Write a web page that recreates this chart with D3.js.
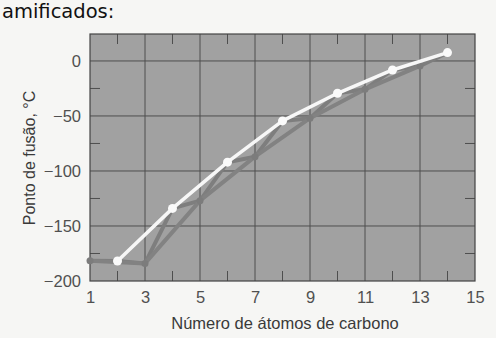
<!DOCTYPE html>
<html>
<head>
<meta charset="utf-8">
<script src="https://cdn.jsdelivr.net/npm/d3@7"></script>
<style>
  html, body { margin: 0; padding: 0; background: #f6f6f4; }
  svg { display: block; }
  .tick text { font-family: "Liberation Sans", Arial, sans-serif; font-size: 16.5px; fill: #505050; }
</style>
</head>
<body>
<div id="chart"></div>
<script>
"use strict"

// melting point (°C) vs number of carbon atoms
const carbons = [1, 2, 3, 4, 5, 6, 7, 8, 9, 10, 11, 12, 13, 14];
const meltingPoints = [-181.5, -181.8, -184, -134, -127, -92, -87, -54.5, -52, -29.4, -25.8, -8.2, -4.5, 7.6];
const xTicks = [1, 3, 5, 7, 9, 11, 13, 15];
const xMinor = [2, 4, 6, 8, 10, 12, 14];
const yTicks = [0, -50, -100, -150, -200];
const yMinor = [-25, -75, -125, -175];

const width = 496, height = 338;
const plot = {left: 90, right: 475, top: 34, bottom: 281};

const svg = d3.select("#chart").append("svg")
    .attr("width", width)
    .attr("height", height);

//---------------------------SCALES---------------------------//
const x = d3.scaleLinear().domain([1, 15]).range([plot.left, plot.right]);
const y = d3.scaleLinear().domain([-200, 24.5]).range([plot.bottom, plot.top]);

// cropped heading from the page
svg.append("text")
    .attr("x", 2)
    .attr("y", 18)
    .style("font-family", "DejaVu Sans, Verdana, sans-serif")
    .style("font-size", "19.5px")
    .style("fill", "#111")
    .text("amificados:");

// plot background
svg.append("rect")
    .attr("x", plot.left)
    .attr("y", plot.top)
    .attr("width", plot.right - plot.left)
    .attr("height", plot.bottom - plot.top)
    .attr("fill", "#a1a1a1");

//----------------------------GRID----------------------------//
const grid = svg.append("g").attr("stroke", "#4e4e4e").attr("stroke-width", 1);

grid.selectAll("line.vx")
    .data(xTicks.filter(d => d > 1 && d < 15))
    .join("line")
    .attr("x1", d => x(d)).attr("x2", d => x(d))
    .attr("y1", plot.top).attr("y2", plot.bottom);

grid.selectAll("line.hy")
    .data(yTicks.filter(d => d > -200))
    .join("line")
    .attr("class", "hy")
    .attr("x1", plot.left).attr("x2", plot.right)
    .attr("y1", d => y(d)).attr("y2", d => y(d));

// minor ticks inside the frame
const tickLen = 10;
xMinor.forEach(d => {
    grid.append("line").attr("x1", x(d)).attr("x2", x(d)).attr("y1", plot.top).attr("y2", plot.top + tickLen);
    grid.append("line").attr("x1", x(d)).attr("x2", x(d)).attr("y1", plot.bottom).attr("y2", plot.bottom - tickLen);
});
yMinor.forEach(d => {
    grid.append("line").attr("x1", plot.left).attr("x2", plot.left + tickLen).attr("y1", y(d)).attr("y2", y(d));
    grid.append("line").attr("x1", plot.right).attr("x2", plot.right - tickLen).attr("y1", y(d)).attr("y2", y(d));
});

svg.append("rect")
    .attr("x", plot.left)
    .attr("y", plot.top)
    .attr("width", plot.right - plot.left)
    .attr("height", plot.bottom - plot.top)
    .attr("fill", "none")
    .attr("stroke", "#444")
    .attr("stroke-width", 1.2);

//----------------------------AXES----------------------------//
const xAxis = svg.append("g")
    .attr("transform", `translate(0,${plot.bottom})`)
    .call(d3.axisBottom(x).tickValues(xTicks).tickSize(0).tickPadding(10).tickFormat(d3.format("d")));
xAxis.select(".domain").remove();

const yAxis = svg.append("g")
    .attr("transform", `translate(${plot.left},0)`)
    .call(d3.axisLeft(y).tickValues(yTicks).tickSize(0).tickPadding(9).tickFormat(d => d < 0 ? "\u2212" + Math.abs(d) : d));
yAxis.select(".domain").remove();

svg.append("text")
    .attr("x", 285)
    .attr("y", 329)
    .attr("text-anchor", "middle")
    .style("font-family", "Liberation Sans, Arial, sans-serif")
    .style("font-size", "16.5px")
    .style("fill", "#3a3a3a")
    .text("Número de átomos de carbono");

svg.append("text")
    .attr("transform", `translate(35,158) rotate(-90)`)
    .attr("text-anchor", "middle")
    .style("font-family", "Liberation Sans, Arial, sans-serif")
    .style("font-size", "16px")
    .style("fill", "#3a3a3a")
    .text("Ponto de fusão, °C");

//----------------------------LINES---------------------------//
const pts = carbons.map((c, i) => ({c, t: meltingPoints[i]}));
const odd = pts.filter(p => p.c % 2 === 1);
const even = pts.filter(p => p.c % 2 === 0);

const line = d3.line().x(p => x(p.c)).y(p => y(p.t));

// zigzag through every point
svg.append("path")
    .attr("d", line(pts))
    .attr("fill", "none")
    .attr("stroke", "#7e7e7e")
    .attr("stroke-width", 4)
    .attr("stroke-linejoin", "round");

// odd carbons
svg.append("path")
    .attr("d", line(odd))
    .attr("fill", "none")
    .attr("stroke", "#828282")
    .attr("stroke-width", 4)
    .attr("stroke-linejoin", "round");

svg.selectAll("circle.odd")
    .data(odd)
    .join("circle")
    .attr("class", "odd")
    .attr("cx", p => x(p.c))
    .attr("cy", p => y(p.t))
    .attr("r", 3.5)
    .attr("fill", "#7c7c7c");

// even carbons
svg.append("path")
    .attr("d", line(even))
    .attr("fill", "none")
    .attr("stroke", "#f7f7f7")
    .attr("stroke-width", 3.5)
    .attr("stroke-linejoin", "round");

svg.selectAll("circle.even")
    .data(even)
    .join("circle")
    .attr("class", "even")
    .attr("cx", p => x(p.c))
    .attr("cy", p => y(p.t))
    .attr("r", 4.5)
    .attr("fill", "#fafafa");
</script>
</body>
</html>
